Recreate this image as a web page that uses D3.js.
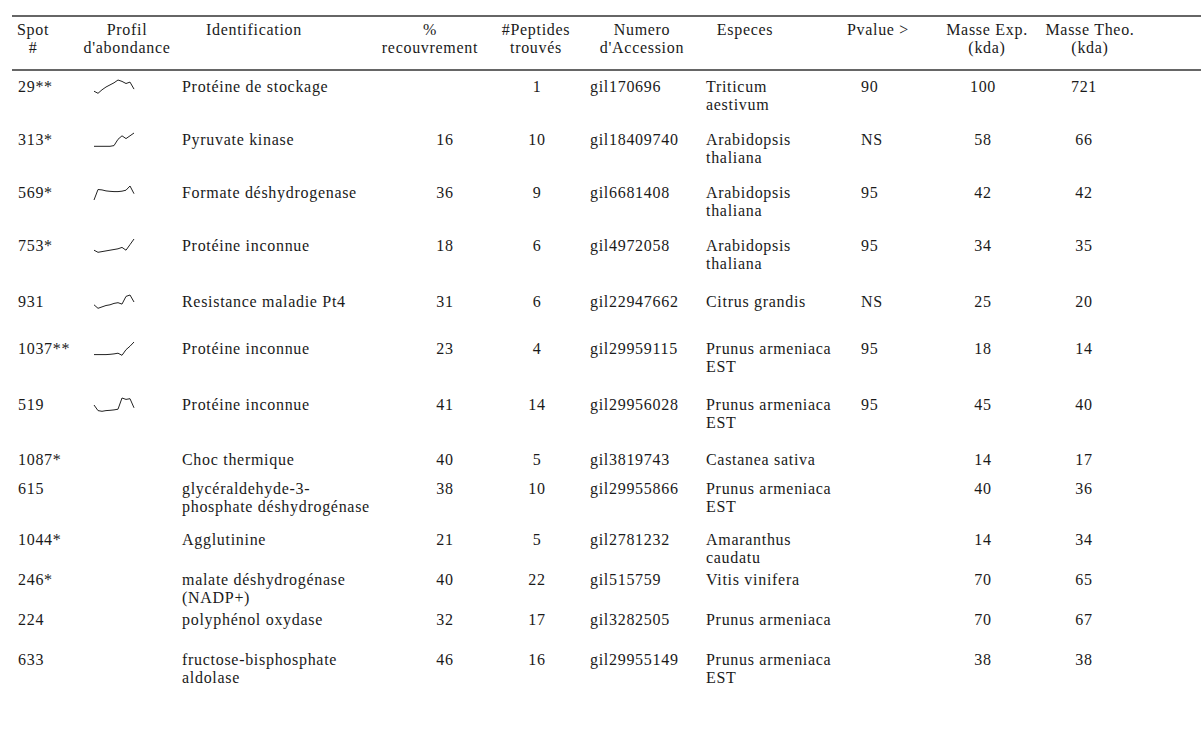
<!DOCTYPE html>
<html>
<head>
<meta charset="utf-8">
<script src="https://cdn.jsdelivr.net/npm/d3@7/dist/d3.min.js"></script>
<style>
html,body{margin:0;padding:0;background:#fff;}
</style>
</head>
<body>
<svg id="chart" width="1201" height="736"></svg>
<script>
// ---------- DATA ----------
const spots = ["29**","313*","569*","753*","931","1037**","519","1087*","615","1044*","246*","224","633"];
const identification = [
  ["Protéine de stockage"],["Pyruvate kinase"],["Formate déshydrogenase"],["Protéine inconnue"],
  ["Resistance maladie Pt4"],["Protéine inconnue"],["Protéine inconnue"],["Choc thermique"],
  ["glycéraldehyde-3-","phosphate déshydrogénase"],["Agglutinine"],["malate déshydrogénase","(NADP+)"],
  ["polyphénol oxydase"],["fructose-bisphosphate","aldolase"]
];
const recouvrement = ["", "16","36","18","31","23","41","40","38","21","40","32","46"];
const peptides = ["1","10","9","6","6","4","14","5","10","5","22","17","16"];
const accession = ["gil170696","gil18409740","gil6681408","gil4972058","gil22947662","gil29959115","gil29956028","gil3819743","gil29955866","gil2781232","gil515759","gil3282505","gil29955149"];
const especes = [
  ["Triticum","aestivum"],["Arabidopsis","thaliana"],["Arabidopsis","thaliana"],["Arabidopsis","thaliana"],
  ["Citrus grandis"],["Prunus armeniaca","EST"],["Prunus armeniaca","EST"],["Castanea sativa"],
  ["Prunus armeniaca","EST"],["Amaranthus","caudatu"],["Vitis vinifera"],["Prunus armeniaca"],["Prunus armeniaca","EST"]
];
const pvalue = ["90","NS","95","95","NS","95","95","","","","","",""];
const masseExp = ["100","58","42","34","25","18","45","14","40","14","70","70","38"];
const masseTheo = ["721","66","42","35","20","14","40","17","36","34","65","67","38"];
// abundance profiles (relative level, 0 = low, 1 = high); null = no profile
const profiles = [
  [0.2,0.05,0.3,0.5,0.65,0.8,1.0,0.9,0.75,0.85,0.35],
  [0.05,0.05,0.05,0.05,0.05,0.1,0.55,0.8,0.6,0.8,1.0],
  [0.0,0.75,0.72,0.65,0.62,0.6,0.6,0.63,0.7,1.0,0.45],
  [0.2,0.05,0.1,0.15,0.2,0.25,0.3,0.4,0.2,0.6,1.0],
  [0.3,0.05,0.15,0.25,0.3,0.4,0.45,0.35,0.9,1.0,0.5],
  [0.1,0.1,0.1,0.1,0.12,0.15,0.2,0.05,0.45,0.7,1.0],
  [0.5,0.1,0.05,0.1,0.12,0.15,0.2,1.0,0.9,0.95,0.3],
  null,null,null,null,null,null
];
const headers = [
  ["Spot","#"],["Profil","d'abondance"],["Identification",""],["%","recouvrement"],
  ["#Peptides","trouvés"],["Numero","d'Accession"],["Especes",""],["Pvalue >",""],
  ["Masse Exp.","(kda)"],["Masse Theo.","(kda)"]
];

// ---------- LAYOUT ----------
const FONT = "'Liberation Serif', 'Times New Roman', serif";
const svg = d3.select("#chart");
const headerX = [33,127,254,430,536,642,745,878,987,1090];
const rowGaps = [53,53,53,56,47,56,55,29,51,40,40,40];
const firstRowY = 88;
const lineH = 18;
const rowY = [firstRowY];
rowGaps.forEach((g,i)=>rowY.push(rowY[i]+g));

function txt(x,y,t,anchor){
  return svg.append("text").attr("x",x).attr("y",y)
    .attr("font-family",FONT).attr("font-size",16).attr("letter-spacing","0.7px")
    .attr("fill","#1a1a1a")
    .attr("text-anchor",anchor).attr("dominant-baseline","middle").text(t);
}

svg.selectAll("line.rule").data([16,70]).join("line")
  .attr("class","rule").attr("x1",12).attr("x2",1201)
  .attr("y1",d=>d).attr("y2",d=>d).attr("stroke","#333").attr("stroke-width",1.5);

// headers
headers.forEach((h,i)=>{
  h.forEach((t,j)=>{
    if(!t) return;
    txt(headerX[i],31+j*18,t,"middle");
  });
});

function cell(lines, x, i, anchor){
  const arr = Array.isArray(lines)?lines:[lines];
  arr.forEach((t,j)=>{ if(t) txt(x,rowY[i]+j*lineH,t,anchor); });
}
spots.forEach((d,i)=>cell(d,18,i,"start"));
identification.forEach((d,i)=>cell(d,182,i,"start"));
recouvrement.forEach((d,i)=>cell(d,445,i,"middle"));
peptides.forEach((d,i)=>cell(d,537,i,"middle"));
accession.forEach((d,i)=>cell(d,590,i,"start"));
especes.forEach((d,i)=>cell(d,706,i,"start"));
pvalue.forEach((d,i)=>cell(d,861,i,"start"));
masseExp.forEach((d,i)=>cell(d,983,i,"middle"));
masseTheo.forEach((d,i)=>cell(d,1084,i,"middle"));

// sparklines
profiles.forEach((p,i)=>{
  if(!p) return;
  const x = d3.scaleLinear().domain([0,p.length-1]).range([94,134]);
  const y = d3.scaleLinear().domain([0,1]).range([rowY[i]+6,rowY[i]-8]);
  svg.append("path").attr("d",d3.line().x((d,k)=>x(k)).y(d=>y(d))(p))
    .attr("fill","none").attr("stroke","#222").attr("stroke-width",1);
});
</script>
</body>
</html>
